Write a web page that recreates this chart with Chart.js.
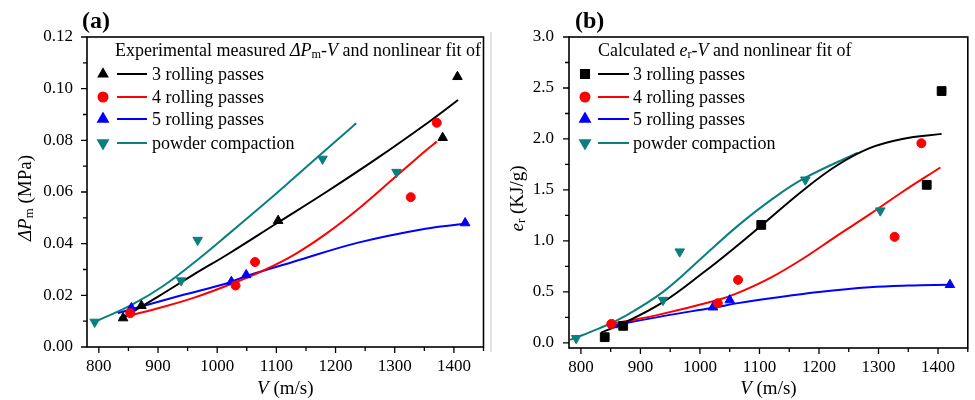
<!DOCTYPE html>
<html>
<head>
<meta charset="utf-8">
<script src="https://cdn.jsdelivr.net/npm/chart.js@4.4.0/dist/chart.umd.min.js"></script>
<style>
body { margin: 0; background: #fff; }
#wrap { position: relative; width: 975px; height: 400px; }
.panel { position: absolute; top: 0; height: 400px; }
#pa { left: 0; width: 490px; }
#pb { left: 490px; width: 485px; }
</style>
</head>
<body>
<div id="wrap">
  <div class="panel" id="pa"><canvas id="chartA" width="490" height="400"></canvas></div>
  <div class="panel" id="pb"><canvas id="chartB" width="485" height="400"></canvas></div>
</div>
<script>
// series names, same in both panels
const seriesNames = ['3 rolling passes', '4 rolling passes', '5 rolling passes', 'powder compaction'];

// ticks
const xMajorTicks = [800, 900, 1000, 1100, 1200, 1300, 1400];
const xMinorTicks = [850, 950, 1050, 1150, 1250, 1350, 1450];
const yMajorA = [0, 0.02, 0.04, 0.06, 0.08, 0.10, 0.12];
const yMinorA = [0.01, 0.03, 0.05, 0.07, 0.09, 0.11];
const yMajorB = [0, 0.5, 1.0, 1.5, 2.0, 2.5, 3.0];
const yMinorB = [0.25, 0.75, 1.25, 1.75, 2.25, 2.75];

// (a) measured dPm (MPa) vs V (m/s)
const velA3 = [841, 872, 1103, 1381, 1406];
const dpA3  = [0.0112, 0.0160, 0.0489, 0.0810, 0.1046];
const velA4 = [853, 1031, 1064, 1327, 1371];
const dpA4  = [0.0131, 0.0238, 0.0329, 0.0580, 0.0868];
const velA5 = [855, 1024, 1049, 1419];
const dpA5  = [0.0151, 0.0253, 0.0279, 0.0480];
const velA0 = [793, 939, 967, 1178, 1303];
const dpA0  = [0.0097, 0.0257, 0.0414, 0.0728, 0.0677];

// (a) nonlinear fits
const fitVA3 = [843, 900, 960, 1020, 1100, 1185, 1270, 1360, 1407];
const fitPA3 = [0.0117, 0.0195, 0.0280, 0.0362, 0.0478, 0.0601, 0.0730, 0.0875, 0.0956];
const fitVA4 = [835, 900, 960, 1027, 1074, 1129, 1185, 1240, 1296, 1352, 1371];
const fitPA4 = [0.0112, 0.0150, 0.0190, 0.0247, 0.0292, 0.0356, 0.0440, 0.0537, 0.0648, 0.0760, 0.0795];
const fitVA5 = [832, 855, 940, 1018, 1050, 1129, 1240, 1352, 1418];
const fitPA5 = [0.0131, 0.0146, 0.0200, 0.0248, 0.0275, 0.0330, 0.0405, 0.0458, 0.0477];
const fitVA0 = [793, 857, 910, 968, 1018, 1085, 1130, 1177, 1235];
const fitPA0 = [0.0097, 0.0165, 0.0238, 0.0340, 0.0435, 0.0565, 0.0655, 0.0750, 0.0866];

// (b) calculated er (KJ/g) vs V (m/s)
const velB3 = [840, 871, 1103, 1381, 1406];
const erB3  = [0.056, 0.167, 1.157, 1.55, 2.47];
const velB4 = [851, 1030, 1064, 1327, 1372];
const erB4  = [0.186, 0.389, 0.618, 1.04, 1.958];
const velB5 = [854, 1022, 1050, 1420];
const erB5  = [0.176, 0.35, 0.42, 0.57];
const velB0 = [792, 938, 966, 1177, 1303];
const erB0  = [0.046, 0.42, 0.895, 1.60, 1.297];

// (b) nonlinear fits
const fitVB3 = [834, 870, 938, 1008, 1064, 1103, 1174, 1230, 1285, 1340, 1406];
const fitEB3 = [0.10, 0.19, 0.40, 0.70, 0.96, 1.15, 1.50, 1.74, 1.91, 2.00, 2.05];
const fitVB4 = [845, 926, 1030, 1064, 1119, 1174, 1230, 1285, 1340, 1404];
const fitEB4 = [0.18, 0.27, 0.42, 0.49, 0.64, 0.83, 1.05, 1.26, 1.48, 1.72];
const fitVB5 = [845, 940, 1022, 1064, 1147, 1200, 1285, 1350, 1420];
const fitEB5 = [0.16, 0.265, 0.345, 0.39, 0.46, 0.50, 0.545, 0.562, 0.57];
const fitVB0 = [782, 830, 870, 938, 1008, 1064, 1119, 1174, 1265];
const fitEB0 = [0.03, 0.14, 0.25, 0.50, 0.86, 1.15, 1.40, 1.61, 1.865];

const colors = ['#000000', '#ff0000', '#0000ff', '#0a7f7f'];
const serif = '"Liberation Serif", "Times New Roman", serif';

function pts(xs, ys) {
    return xs.map((x, i) => ({ x: x, y: ys[i] }));
}

function fontFor(p, size) {
    const s = p.sub ? size * 0.68 : size;
    return (p.bold ? 'bold ' : '') + (p.it ? 'italic ' : '') + s + 'px ' + serif;
}

function richWidth(ctx, parts, size) {
    let w = 0;
    parts.forEach(p => { ctx.font = fontFor(p, size); w += ctx.measureText(p.t).width; });
    return w;
}

function drawRich(ctx, parts, x, y, size) {
    ctx.textAlign = 'left';
    ctx.textBaseline = 'alphabetic';
    ctx.fillStyle = '#000';
    parts.forEach(p => {
        ctx.font = fontFor(p, size);
        ctx.fillText(p.t, x, y + (p.sub ? size * 0.12 : 0));
        x += ctx.measureText(p.t).width;
    });
}

function drawMarker(ctx, style, rot, r, x, y, color) {
    ctx.save();
    ctx.fillStyle = color;
    ctx.strokeStyle = color;
    if (Chart.helpers && Chart.helpers.drawPoint) {
        Chart.helpers.drawPoint(ctx, { pointStyle: style, rotation: rot, radius: r, borderWidth: 1 }, x, y);
    } else {
        ctx.beginPath();
        ctx.arc(x, y, r, 0, Math.PI * 2);
        ctx.fill();
    }
    ctx.restore();
}

function makeFigure(canvasId, cfg) {
    const markers = cfg.markers;
    const datasets = [];
    cfg.meas.forEach((m, i) => {
        datasets.push({
            label: seriesNames[i],
            data: pts(m[0], m[1]),
            showLine: false,
            pointStyle: markers[i].style,
            rotation: markers[i].rot,
            pointRadius: markers[i].r,
            backgroundColor: colors[i],
            borderColor: colors[i],
            borderWidth: 1
        });
    });
    cfg.fits.forEach((f, i) => {
        datasets.push({
            label: seriesNames[i] + ' fit',
            data: pts(f[0], f[1]),
            showLine: true,
            pointRadius: 0,
            borderColor: colors[i],
            borderWidth: 2,
            tension: 0.4,
            fill: false
        });
    });

    const decor = {
        id: 'decor',
        afterDraw(chart) {
            const ctx = chart.ctx;
            const a = chart.chartArea;
            const xs = chart.scales.x, ys = chart.scales.y;
            ctx.save();
            // frame
            ctx.strokeStyle = '#000';
            ctx.lineWidth = 1.6;
            ctx.strokeRect(a.left, a.top, a.right - a.left, a.bottom - a.top);
            // ticks
            ctx.lineWidth = 1.3;
            ctx.beginPath();
            xMajorTicks.concat(xMinorTicks).forEach(v => {
                const px = xs.getPixelForValue(v);
                const len = xMajorTicks.includes(v) ? 6 : 4;
                ctx.moveTo(px, a.bottom);
                ctx.lineTo(px, a.bottom + len);
            });
            cfg.yMajor.concat(cfg.yMinor).forEach(v => {
                const py = ys.getPixelForValue(v);
                const len = cfg.yMajor.includes(v) ? 6 : 4;
                ctx.moveTo(a.left, py);
                ctx.lineTo(a.left - len, py);
            });
            ctx.stroke();

            // panel letter
            drawRich(ctx, [{ t: cfg.letter, bold: true }], cfg.letterX, 28, 24);

            // x title
            const xt = [{ t: 'V', it: true }, { t: ' (m/s)' }];
            const xw = richWidth(ctx, xt, 19);
            drawRich(ctx, xt, (a.left + a.right) / 2 - xw / 2, 394, 19);

            // y title rotated
            const yw = richWidth(ctx, cfg.yTitle, 19);
            ctx.save();
            ctx.translate(cfg.yTitleX, (a.top + a.bottom) / 2 + 6);
            ctx.rotate(-Math.PI / 2);
            drawRich(ctx, cfg.yTitle, -yw / 2, 6, 19);
            ctx.restore();

            // legend
            const L = cfg.legend;
            drawRich(ctx, cfg.legendTitle, L.titleX, 56, 18);
            seriesNames.forEach((name, i) => {
                const cy = L.rows[i];
                drawMarker(ctx, markers[i].style, markers[i].rot, markers[i].r, L.markX, cy, colors[i]);
                ctx.strokeStyle = colors[i];
                ctx.lineWidth = 2;
                ctx.beginPath();
                ctx.moveTo(L.lineX0, cy);
                ctx.lineTo(L.lineX1, cy);
                ctx.stroke();
                drawRich(ctx, [{ t: name }], L.textX, cy + 6, 18);
            });

            if (cfg.sepLine) {
                ctx.strokeStyle = '#dadada';
                ctx.lineWidth = 1.5;
                ctx.beginPath();
                ctx.moveTo(1, 32);
                ctx.lineTo(1, 352);
                ctx.stroke();
            }
            ctx.restore();
        }
    };

    return new Chart(document.getElementById(canvasId), {
        type: 'scatter',
        data: { datasets: datasets },
        options: {
            responsive: false,
            animation: false,
            layout: { padding: { top: 37, right: cfg.padRight, left: 0, bottom: 0 } },
            plugins: { legend: { display: false }, tooltip: { enabled: false } },
            scales: {
                x: {
                    type: 'linear',
                    min: 780,
                    max: 1450,
                    grid: { display: false, drawTicks: false },
                    border: { display: false },
                    afterBuildTicks: s => { s.ticks = xMajorTicks.map(v => ({ value: v })); },
                    afterFit: s => { s.height = cfg.xHeight; },
                    ticks: {
                        padding: 9,
                        color: '#000',
                        maxRotation: 0,
                        font: { family: serif, size: 17 },
                        callback: v => String(v)
                    }
                },
                y: {
                    type: 'linear',
                    min: cfg.yMin,
                    max: cfg.yMax,
                    grid: { display: false, drawTicks: false },
                    border: { display: false },
                    afterBuildTicks: s => { s.ticks = cfg.yMajor.map(v => ({ value: v })); },
                    afterFit: s => { s.width = cfg.yWidth; },
                    ticks: {
                        padding: cfg.yPad,
                        color: '#000',
                        font: { family: serif, size: 17 },
                        callback: v => Number(v).toFixed(cfg.yDec)
                    }
                }
            }
        },
        plugins: [decor]
    });
}

const markersA = [
    { style: 'triangle', rot: 0, r: 5.5 },
    { style: 'circle', rot: 0, r: 4.5 },
    { style: 'triangle', rot: 0, r: 5.5 },
    { style: 'triangle', rot: 180, r: 5.5 }
];
const markersB = [
    { style: 'rect', rot: 0, r: 6.2 },
    { style: 'circle', rot: 0, r: 4.5 },
    { style: 'triangle', rot: 0, r: 5.5 },
    { style: 'triangle', rot: 180, r: 5.5 }
];

makeFigure('chartA', {
    letter: '(a)', letterX: 82,
    markers: markersA,
    meas: [[velA3, dpA3], [velA4, dpA4], [velA5, dpA5], [velA0, dpA0]],
    fits: [[fitVA3, fitPA3], [fitVA4, fitPA4], [fitVA5, fitPA5], [fitVA0, fitPA0]],
    yMin: 0, yMax: 0.12, yMajor: yMajorA, yMinor: yMinorA, yDec: 2,
    yWidth: 87, yPad: 14, xHeight: 53, padRight: 1,
    yTitleX: 25,
    yTitle: [{ t: 'ΔP', it: true }, { t: 'm', sub: true }, { t: ' (MPa)' }],
    legendTitle: [{ t: 'Experimental measured ' }, { t: 'ΔP', it: true }, { t: 'm', sub: true },
                  { t: '-' }, { t: 'V', it: true }, { t: ' and nonlinear fit of' }],
    legend: { titleX: 115, markX: 103, lineX0: 117, lineX1: 147, textX: 152, rows: [74, 97, 119, 143] }
});

makeFigure('chartB', {
    letter: '(b)', letterX: 85,
    markers: markersB,
    meas: [[velB3, erB3], [velB4, erB4], [velB5, erB5], [velB0, erB0]],
    fits: [[fitVB3, fitEB3], [fitVB4, fitEB4], [fitVB5, fitEB5], [fitVB0, fitEB0]],
    yMin: -0.05, yMax: 3.0, yMajor: yMajorB, yMinor: yMinorB, yDec: 1,
    yWidth: 79, yPad: 15, xHeight: 52, padRight: 2,
    yTitleX: 27,
    yTitle: [{ t: 'e', it: true }, { t: 'r', sub: true }, { t: ' (KJ/g)' }],
    legendTitle: [{ t: 'Calculated ' }, { t: 'e', it: true }, { t: 'r', sub: true },
                  { t: '-' }, { t: 'V', it: true }, { t: ' and nonlinear fit of' }],
    legend: { titleX: 108, markX: 95, lineX0: 108, lineX1: 139, textX: 143, rows: [74, 97, 119, 143] },
    sepLine: true
});
</script>
</body>
</html>
